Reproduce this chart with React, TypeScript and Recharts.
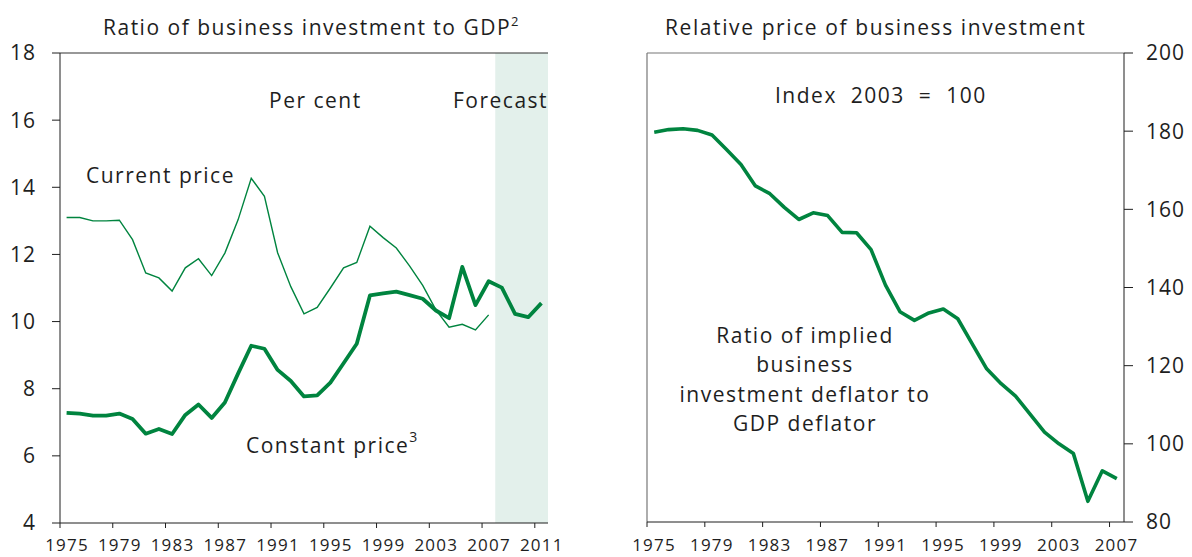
import { LineChart, Line, XAxis, YAxis, ReferenceArea, ReferenceLine } from 'recharts';

// annual observations, plotted at mid-year
const years = [
  1975, 1976, 1977, 1978, 1979, 1980, 1981, 1982, 1983, 1984, 1985, 1986, 1987, 1988, 1989,
  1990, 1991, 1992, 1993, 1994, 1995, 1996, 1997, 1998, 1999, 2000, 2001, 2002, 2003, 2004,
  2005, 2006, 2007, 2008, 2009, 2010, 2011,
];

const currentPrice = [
  13.1, 13.1, 13.0, 13.0, 13.02, 12.44, 11.45, 11.3, 10.91, 11.6, 11.87, 11.37, 12.04, 13.03, 14.27,
  13.73, 12.05, 11.04, 10.23, 10.42, 11.0, 11.6, 11.76, 12.84, 12.5, 12.19, 11.66, 11.08, 10.35, 9.83,
  9.92, 9.75, 10.2, null, null, null, null,
];

const constantPrice = [
  7.28, 7.26, 7.2, 7.2, 7.26, 7.1, 6.66, 6.8, 6.65, 7.22, 7.53, 7.13, 7.59, 8.45, 9.28,
  9.19, 8.56, 8.23, 7.77, 7.8, 8.18, 8.76, 9.34, 10.78, 10.84, 10.89, 10.79, 10.68, 10.33, 10.1,
  11.63, 10.49, 11.2, 11.01, 10.23, 10.13, 10.55,
];

const relativePrice = [
  179.7, 180.4, 180.6, 180.2, 179.0, 175.3, 171.5, 166.0, 164.0, 160.5, 157.4, 159.1, 158.4, 154.1, 154.0,
  149.7, 140.6, 133.8, 131.6, 133.5, 134.5, 132.0, 125.6, 119.2, 115.4, 112.2, 107.6, 103.0, 100.0, 97.5,
  85.3, 93.1, 91.1,
];

const leftXTicks = [1975, 1979, 1983, 1987, 1991, 1995, 1999, 2003, 2007, 2011];
const rightXTicks = [1975, 1979, 1983, 1987, 1991, 1995, 1999, 2003, 2007];
const leftYTicks = [4, 6, 8, 10, 12, 14, 16, 18];
const rightYTicks = [80, 100, 120, 140, 160, 180, 200];

const leftData = years.map((y, i) => ({ x: y + 0.5, current: currentPrice[i], constant: constantPrice[i] }));
const rightData = relativePrice.map((v, i) => ({ x: years[i] + 0.5, relative: v }));

const GREEN = '#00843f';
const INK = '#1e1e1e';
const FONT = "'Open Sans', sans-serif";

const xTick = { fontSize: 17, fill: INK, letterSpacing: 1.2, dx: 7 };
const yTick = { fontSize: 21, fill: INK, letterSpacing: 1 };
const label = { fontSize: 21, fill: INK, letterSpacing: 1.5, fontFamily: FONT };

export default function App() {
  return (
    <div
      style={{
        position: 'absolute',
        left: 0,
        top: 0,
        width: 1192,
        height: 557,
        background: '#fff',
        overflow: 'hidden',
        fontFamily: FONT,
      }}
    >
      {/* left panel: ratio to GDP */}
      <div style={{ position: 'absolute', left: 0, top: 0 }}>
        <LineChart width={600} height={557} data={leftData} margin={{ top: 53, right: 52, bottom: 0, left: 0 }}>
          <ReferenceArea x1={2008} x2={2012} y1={4} y2={18} fill="#e3f0eb" fillOpacity={1} stroke="none" />
          <ReferenceLine y={18} stroke="#333" strokeWidth={1.2} />
          <XAxis
            dataKey="x"
            type="number"
            domain={[1975, 2012]}
            ticks={leftXTicks}
            interval={0}
            tickSize={5}
            tickMargin={11}
            height={34}
            stroke={INK}
            tick={xTick}
            allowDataOverflow
          />
          <YAxis
            type="number"
            domain={[4, 18]}
            ticks={leftYTicks}
            interval={0}
            tickSize={8}
            tickMargin={16}
            width={60}
            stroke={INK}
            tick={yTick}
          />
          <Line
            dataKey="current"
            type="linear"
            stroke={GREEN}
            strokeWidth={1.4}
            dot={false}
            isAnimationActive={false}
          />
          <Line
            dataKey="constant"
            type="linear"
            stroke={GREEN}
            strokeWidth={3.8}
            strokeLinejoin="round"
            dot={false}
            isAnimationActive={false}
          />
        </LineChart>
      </div>

      {/* right panel: relative price */}
      <div style={{ position: 'absolute', left: 600, top: 0 }}>
        <LineChart width={592} height={557} data={rightData} margin={{ top: 53, right: 0, bottom: 0, left: 47 }}>
          <ReferenceLine y={200} yAxisId="r" stroke="#777" strokeWidth={1.2} />
          <ReferenceLine x={1975} yAxisId="r" stroke="#777" strokeWidth={1.2} />
          <XAxis
            dataKey="x"
            type="number"
            domain={[1975, 2008]}
            ticks={rightXTicks}
            interval={0}
            tickSize={5}
            tickMargin={12}
            height={35}
            stroke={INK}
            tick={xTick}
          />
          <YAxis
            yAxisId="r"
            orientation="right"
            type="number"
            domain={[80, 200]}
            ticks={rightYTicks}
            interval={0}
            tickSize={9}
            tickMargin={13}
            width={68}
            stroke={INK}
            tick={yTick}
          />
          <Line
            yAxisId="r"
            dataKey="relative"
            type="linear"
            stroke={GREEN}
            strokeWidth={3.6}
            strokeLinejoin="round"
            dot={false}
            isAnimationActive={false}
          />
        </LineChart>
      </div>

      {/* titles and annotations */}
      <svg width={1192} height={557} style={{ position: 'absolute', left: 0, top: 0, pointerEvents: 'none' }}>
        <text x={103} y={35} {...label}>
          Ratio of business investment to GDP
          <tspan fontSize={13} dy={-9} letterSpacing={0}>2</tspan>
        </text>
        <text x={269} y={108} {...label}>Per cent</text>
        <text x={453} y={108} {...label}>Forecast</text>
        <text x={86} y={183} {...label}>Current price</text>
        <text x={246} y={453} {...label}>
          Constant price
          <tspan fontSize={14} dy={-11} letterSpacing={0}>3</tspan>
        </text>

        <text x={665} y={35} {...label} letterSpacing={1.6}>Relative price of business investment</text>
        <text x={775} y={103} {...label} wordSpacing={7}>Index 2003 = 100</text>
        <text x={805} y={343} textAnchor="middle" {...label}>Ratio of implied</text>
        <text x={805} y={372} textAnchor="middle" {...label}>business</text>
        <text x={805} y={402} textAnchor="middle" {...label}>investment deflator to</text>
        <text x={805} y={431} textAnchor="middle" {...label}>GDP deflator</text>
      </svg>
    </div>
  );
}
